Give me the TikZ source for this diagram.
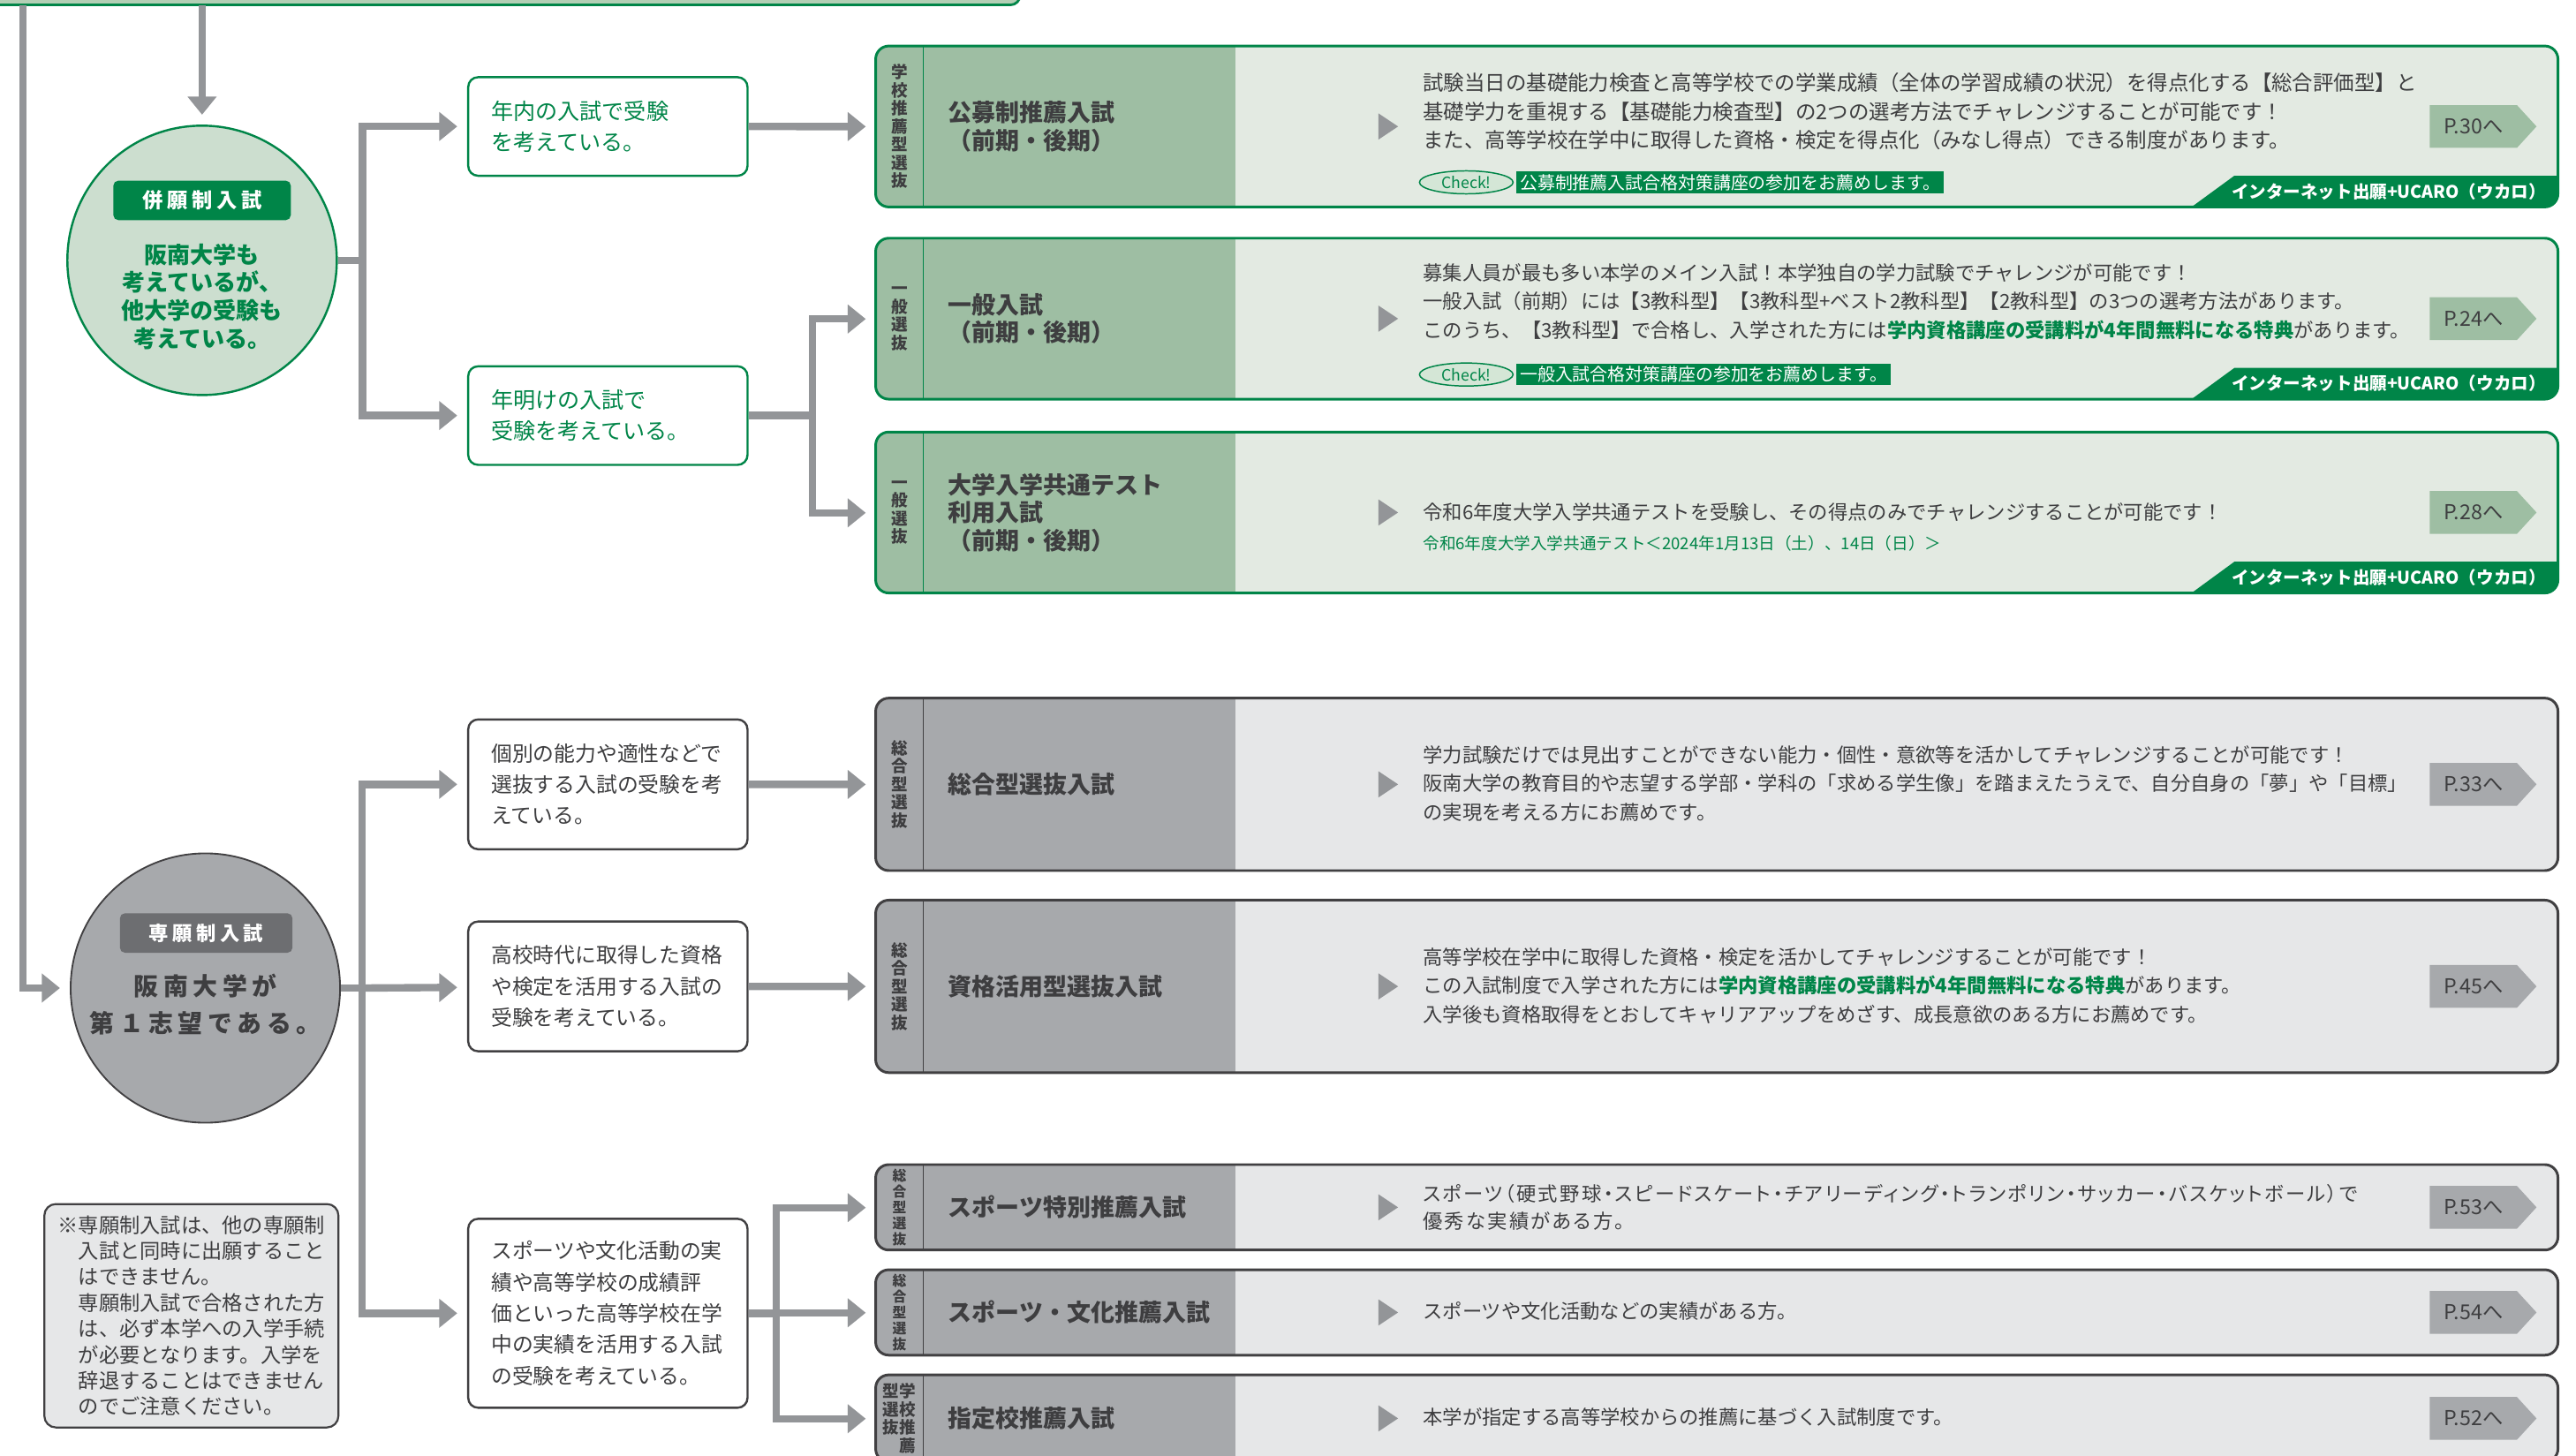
\documentclass[tikz,border=0pt]{standalone}
\usepackage{fontspec}
\setmainfont{Noto Sans CJK JP}
\newfontfamily\widefont[LetterSpace=20]{Noto Sans CJK JP}
\newfontfamily\paltfont[RawFeature=+palt, LetterSpace=10]{Noto Sans CJK JP}
\usetikzlibrary{arrows.meta,shapes.geometric,shapes.symbols}

\definecolor{gdark}{RGB}{0,133,72}
\definecolor{gtop}{RGB}{179,207,181}
\definecolor{gpale}{RGB}{204,222,207}
\definecolor{glight}{RGB}{227,234,226}
\definecolor{gmid}{RGB}{158,190,163}
\definecolor{gcheck}{RGB}{212,230,214}
\definecolor{kdark}{RGB}{65,64,66}
\definecolor{klabel}{RGB}{109,110,113}
\definecolor{kmid}{RGB}{167,169,172}
\definecolor{klight}{RGB}{230,231,232}
\definecolor{arrowgrey}{RGB}{147,149,152}
\definecolor{tdark}{RGB}{62,62,64}

\newcommand{\gkey}[1]{\textcolor{gdark}{\bfseries #1}}

% name, top, bottom, theme (g/k), strip style, strip text, title, page
\newcommand{\selbox}[8]{%
  \pgfmathsetmacro{\midy}{(#2+#3)/2}
  \begin{scope}
    \clip[rounded corners=8pt] (533,#2) rectangle (1557,#3);
    \fill[#4light] (533,#2) rectangle (1557,#3);
    \fill[#4mid] (533,#2) rectangle (752,#3);
  \end{scope}
  \draw[#4dark, line width=0.8pt] (562,#2) -- (562,#3);
  \draw[#4dark, line width=1.6pt, rounded corners=8pt] (533,#2) rectangle (1557,#3);
  \node[minimum width=1024pt, minimum height={(#3-#2)*1pt}, anchor=north west] (#1) at (533,#2) {};
  \node[#5] (#1-strip) at (547.5,\midy) {#6};
  \node[title] (#1-title) at (577,\midy) {#7};
  \fill[tri] (839,\midy-8) -- (851,\midy) -- (839,\midy+8) -- cycle;
  \node[#4tag] (#1-page) at (1505.5,\midy) {#8};
}

% name, top, bottom
\newcommand{\ribbon}[3]{%
  \begin{scope}
    \clip[rounded corners=8pt] (533,#2) rectangle (1557,#3);
    \fill[gdark] (1334,#3) -- (1360,#3-19) -- (1560,#3-19) -- (1560,#3) -- cycle;
  \end{scope}
  \node[web] (#1-web) at (1454,#3-9.5) {インターネット出願+UCARO（ウカロ）};
}

% name, y, text
\newcommand{\checkline}[3]{%
  \node[checkmark] (#1-check) at (892.5,#2) {Check!};
  \node[checkbar] (#1-bar) at (923,#2) {#3};
}

\begin{document}
\begin{tikzpicture}[x=1pt, y=-1pt,
    every node/.append style={inner sep=0pt},
    conn/.style={draw=arrowgrey, line width=4.5pt},
    arr/.style={conn, -{Triangle[length=11pt,width=17pt]}, shorten >=6pt},
    gcircle/.style={circle, draw=gdark, line width=1.3pt, fill=gpale, minimum size=164pt},
    kcircle/.style={circle, draw=kdark, line width=1pt, fill=kmid, minimum size=164pt},
    glabel/.style={fill=gdark, text=white, rounded corners=3pt, minimum width=108pt, minimum height=24pt,
      font=\widefont\bfseries\fontsize{12.5}{14}\selectfont},
    klabel/.style={glabel, fill=klabel, minimum width=105pt, font=\widefont\bfseries\fontsize{12}{14}\selectfont},
    gstep/.style={draw=gdark, line width=1.3pt, rounded corners=6pt, fill=white, minimum width=170pt,
      text width=142pt, align=left, text=gdark, font=\fontsize{13.5}{19}\selectfont},
    kstep/.style={gstep, draw=kdark, text=tdark, font=\fontsize{12.8}{19}\selectfont},
    note/.style={draw=kdark, line width=1.2pt, fill=klight, rounded corners=7pt, minimum width=179pt,
      minimum height=136pt, align=left, text=tdark, font=\fontsize{12.5}{15.8}\selectfont},
    title/.style={anchor=west, align=left, text=tdark, font=\bfseries\fontsize{14.5}{17}\selectfont},
    body/.style={anchor=west, align=left, text=tdark, font=\fontsize{12}{17.5}\selectfont},
    strip/.style={align=center, text=tdark, font=\bfseries\fontsize{10}{11}\selectfont},
    stripsm/.style={align=center, text=tdark, font=\bfseries\fontsize{8.5}{9.6}\selectfont},
    gtag/.style={signal, signal to=east, signal pointer angle=95, fill=gmid, text=tdark,
      minimum width=65pt, minimum height=26pt, font=\fontsize{12.5}{13}\selectfont},
    ktag/.style={gtag, fill=kmid},
    tri/.style={fill=arrowgrey},
    web/.style={text=white, font=\bfseries\fontsize{10.5}{12}\selectfont},
    checkmark/.style={ellipse, draw=gdark, line width=0.8pt, fill=gcheck, minimum width=57pt,
      minimum height=14pt, text=gdark, font=\fontsize{9.5}{10}\selectfont},
    checkbar/.style={anchor=west, fill=gdark, text=white, minimum height=13pt, inner xsep=2pt,
      font=\fontsize{10.7}{11}\selectfont}]
    \useasboundingbox (0,0) rectangle (1568,886);

    \draw[gdark, fill=gtop, line width=1.5pt, rounded corners=6pt] (-20,-30) rectangle (621,3);
    \coordinate (topL) at (14,3);
    \coordinate (topC) at (123,3);

    % left side
    \node[gcircle] (heigan) at (123,158.5) {};
    \node[glabel] (heigan-label) at (123,122) {併願制入試};
    \node[align=center, text=gdark, font=\bfseries\fontsize{14}{17}\selectfont] (heigan-text) at (123,180.5)
      {阪南大学も\\考えているが、\\他大学の受験も\\考えている。};

    \node[kcircle] (sengan) at (125,601.5) {};
    \node[klabel] (sengan-label) at (125.5,568) {専願制入試};
    \node[align=center, text=tdark, font=\widefont\bfseries\fontsize{15}{23}\selectfont] (sengan-text) at (125,611.5)
      {阪南大学が\\第１志望である。};

    \node[note] (caution) at (116.5,801) {※専願制入試は、他の専願制\\　入試と同時に出願すること\\　はできません。\\　専願制入試で合格された方\\　は、必ず本学への入学手続\\　が必要となります。入学を\\　辞退することはできません\\　のでご注意ください。};

    \node[gstep, minimum height=60pt] (nen1) at (370,77) {年内の入試で受験\\を考えている。};
    \node[gstep, minimum height=60pt] (nen2) at (370,253) {年明けの入試で\\受験を考えている。};
    \node[kstep, minimum height=79pt] (kobetsu) at (370,477.5) {個別の能力や適性などで\\選抜する入試の受験を考\\えている。};
    \node[kstep, minimum height=79pt] (shikaku) at (370,600.5) {高校時代に取得した資格\\や検定を活用する入試の\\受験を考えている。};
    \node[kstep, minimum height=115pt] (sports) at (370,799.5) {スポーツや文化活動の実\\績や高等学校の成績評\\価といった高等学校在学\\中の実績を活用する入試\\の受験を考えている。};

    % selection boxes
    \selbox{box1}{28}{126}{g}{strip}{学\\校\\推\\薦\\型\\選\\抜}{公募制推薦入試\\（前期・後期）}{P.30へ}
    \ribbon{box1}{28}{126}
    \checkline{box1}{111}{公募制推薦入試合格対策講座の参加をお薦めします。}
    \node[body, font=\fontsize{12.6}{17.5}\selectfont] (box1-body) at (866,68) {試験当日の基礎能力検査と高等学校での学業成績（全体の学習成績の状況）を得点化する【総合評価型】と\\基礎学力を重視する【基礎能力検査型】の2つの選考方法でチャレンジすることが可能です！\\また、高等学校在学中に取得した資格・検定を得点化（みなし得点）できる制度があります。};

    \selbox{box2}{145}{243}{g}{strip}{一\\般\\選\\抜}{一般入試\\（前期・後期）}{P.24へ}
    \ribbon{box2}{145}{243}
    \checkline{box2}{228}{一般入試合格対策講座の参加をお薦めします。}
    \node[body] (box2-body) at (866,183.5) {募集人員が最も多い本学のメイン入試！本学独自の学力試験でチャレンジが可能です！\\一般入試（前期）には【3教科型】【3教科型+ベスト2教科型】【2教科型】の3つの選考方法があります。\\このうち、【3教科型】で合格し、入学された方には\gkey{学内資格講座の受講料が4年間無料になる特典}があります。};

    \selbox{box3}{263}{361}{g}{strip}{一\\般\\選\\抜}{大学入学共通テスト\\利用入試\\（前期・後期）}{P.28へ}
    \ribbon{box3}{263}{361}
    \node[body] (box3-body) at (866,312) {令和6年度大学入学共通テストを受験し、その得点のみでチャレンジすることが可能です！};
    \node[body, text=gdark, font=\fontsize{10}{12}\selectfont] (box3-date) at (866,331) {令和6年度大学入学共通テスト＜2024年1月13日（土）、14日（日）＞};

    \selbox{box4}{425}{530}{k}{strip}{総\\合\\型\\選\\抜}{総合型選抜入試}{P.33へ}
    \node[body] (box4-body) at (866,477) {学力試験だけでは見出すことができない能力・個性・意欲等を活かしてチャレンジすることが可能です！\\阪南大学の教育目的や志望する学部・学科の「求める学生像」を踏まえたうえで、自分自身の「夢」や「目標」\\の実現を考える方にお薦めです。};

    \selbox{box5}{548}{653}{k}{strip}{総\\合\\型\\選\\抜}{資格活用型選抜入試}{P.45へ}
    \node[body] (box5-body) at (866,600) {高等学校在学中に取得した資格・検定を活かしてチャレンジすることが可能です！\\この入試制度で入学された方には\gkey{学内資格講座の受講料が4年間無料になる特典}があります。\\入学後も資格取得をとおしてキャリアアップをめざす、成長意欲のある方にお薦めです。};

    \selbox{box6}{709}{761}{k}{stripsm}{総\\合\\型\\選\\抜}{スポーツ特別推薦入試}{P.53へ}
    \node[body, font=\paltfont\fontsize{12}{16.5}\selectfont] (box6-body) at (866,735) {スポーツ（硬式野球・スピードスケート・チアリーディング・トランポリン・サッカー・バスケットボール）で\\優秀な実績がある方。};

    \selbox{box7}{773}{825}{k}{stripsm}{総\\合\\型\\選\\抜}{スポーツ・文化推薦入試}{P.54へ}
    \node[body] (box7-body) at (866,798) {スポーツや文化活動などの実績がある方。};

    \selbox{box8}{837}{890}{k}{strip}{型学\\選校\\抜推\\　薦}{指定校推薦入試}{P.52へ}
    \node[body] (box8-body) at (866,863) {本学が指定する高等学校からの推薦に基づく入試制度です。};

    % connectors
    \draw[arr] (topC) -- (heigan);
    \draw[arr] (topL) |- (sengan);

    \draw[conn] (heigan.east) -- ++(15,0) coordinate (hj);
    \draw[arr] (hj) |- (nen1);
    \draw[arr] (hj) |- (nen2);
    \draw[arr] (nen1) -- (box1);
    \draw[conn] (nen2.east) -- ++(39,0) coordinate (nj);
    \draw[arr] (nj) |- (box2);
    \draw[arr] (nj) |- (box3);

    \draw[conn] (sengan.east) -- ++(13,0) coordinate (sj);
    \draw[arr] (sj) |- (kobetsu);
    \draw[arr] (sj) -- (shikaku);
    \draw[arr] (sj) |- (sports);
    \draw[arr] (kobetsu) -- (box4);
    \draw[arr] (shikaku) -- (box5);
    \draw[conn] (sports.east) -- ++(17,0) coordinate (spj);
    \draw[arr] (spj) |- (box6);
    \draw[arr] (spj) |- (box7);
    \draw[arr] (spj) |- (box8);
\end{tikzpicture}
\end{document}
